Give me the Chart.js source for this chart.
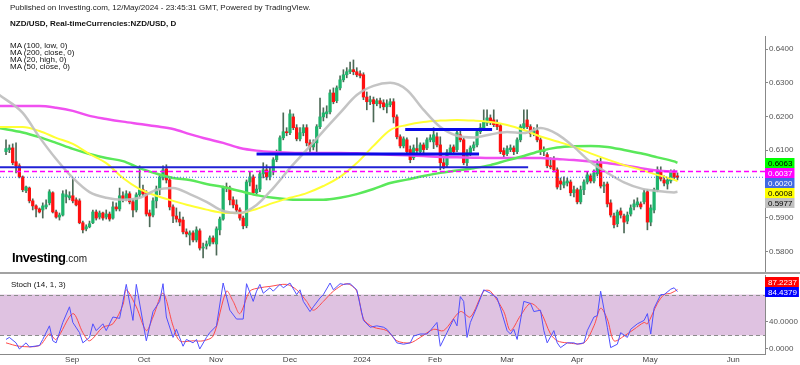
<!DOCTYPE html>
<html>
<head>
<meta charset="utf-8">
<script src="https://cdn.jsdelivr.net/npm/chart.js@4.4.0/dist/chart.umd.min.js"></script>
<style>
  html, body { margin: 0; padding: 0; background: #fff; }
  #wrap { position: relative; width: 800px; height: 365px; overflow: hidden; font-family: "Liberation Sans", Arial, sans-serif; }
  #priceChart { position: absolute; left: 0; top: 0; }
  #stochChart { position: absolute; left: 0; top: 274px; }
  .txt { position: absolute; white-space: nowrap; color: #111; font-size: 8px; line-height: 8px; }
  #sep { position: absolute; left: 0; top: 272px; width: 800px; height: 2px; background: #a2a2a2; }
</style>
</head>
<body>
<div id="wrap">
  <canvas id="priceChart" width="800" height="274"></canvas>
  <canvas id="stochChart" width="800" height="91"></canvas>
  <div id="sep"></div>
  <div class="txt" style="left:10px;top:4px;color:#222">Published on Investing.com, 12/May/2024 - 23:45:31 GMT, Powered by TradingView.</div>
  <div class="txt" style="left:10px;top:20px;font-weight:bold">NZD/USD, Real-timeCurrencies:NZD/USD, D</div>
  <div class="txt" style="left:10px;top:42px">MA (100, low, 0)</div>
  <div class="txt" style="left:10px;top:49px">MA (200, close, 0)</div>
  <div class="txt" style="left:10px;top:56px">MA (20, high, 0)</div>
  <div class="txt" style="left:10px;top:63px">MA (50, close, 0)</div>
  <div class="txt" style="left:12px;top:251px;font-size:13px;line-height:14px;font-weight:bold;letter-spacing:-0.4px;color:#000">Investing<span style="font-weight:normal;font-size:10px;letter-spacing:0;color:#222">.com</span></div>
  <div class="txt" style="left:11px;top:281px">Stoch (14, 1, 3)</div>
</div>
<script>
// daily candles, one per trading day (bar 0 = first visible day)
const opens = [
  0.6096,0.6102,0.6107,0.6066,0.6054,0.6021,0.5980,0.5988,0.5950,0.5935,
  0.5926,0.5923,0.5932,0.5944,0.5974,0.5917,0.5902,0.5908,0.5962,0.5959,
  0.5965,0.5953,0.5950,0.5885,0.5867,0.5873,0.5885,0.5917,0.5902,0.5914,
  0.5902,0.5911,0.5899,0.5932,0.5926,0.5965,0.5956,0.5971,0.5947,0.5923,
  0.5968,0.5983,0.5971,0.5914,0.5908,0.5950,0.5983,0.6018,0.6045,0.6012,
  0.5932,0.5905,0.5896,0.5893,0.5858,0.5849,0.5855,0.5834,0.5861,0.5810,
  0.5816,0.5822,0.5840,0.5822,0.5864,0.5896,0.5991,0.5988,0.5953,0.5938,
  0.5923,0.5899,0.5876,0.6006,0.6021,0.5974,0.5985,0.6030,0.6042,0.6021,
  0.6036,0.6072,0.6096,0.6137,0.6155,0.6152,0.6199,0.6167,0.6134,0.6152,
  0.6167,0.6122,0.6110,0.6122,0.6170,0.6199,0.6208,0.6214,0.6270,0.6247,
  0.6285,0.6309,0.6324,0.6333,0.6339,0.6333,0.6327,0.6324,0.6258,0.6244,
  0.6250,0.6238,0.6247,0.6241,0.6229,0.6235,0.6244,0.6199,0.6140,0.6113,
  0.6131,0.6102,0.6078,0.6105,0.6096,0.6116,0.6107,0.6131,0.6125,0.6140,
  0.6116,0.6063,0.6057,0.6093,0.6110,0.6102,0.6146,0.6131,0.6063,0.6093,
  0.6107,0.6116,0.6155,0.6167,0.6181,0.6196,0.6190,0.6179,0.6173,0.6099,
  0.6090,0.6102,0.6107,0.6096,0.6131,0.6167,0.6190,0.6170,0.6149,0.6158,
  0.6131,0.6096,0.6087,0.6054,0.6072,0.6042,0.6009,0.5997,0.6003,0.6006,
  0.5974,0.5983,0.5947,0.5983,0.6006,0.6024,0.6009,0.6030,0.6063,0.5994,
  0.6000,0.5944,0.5905,0.5882,0.5920,0.5905,0.5890,0.5911,0.5932,0.5938,
  0.5941,0.5947,0.5977,0.5887,0.5923,0.5983,0.6036,0.6012,0.6000,0.6009,
  0.6036,0.6024
];
const highs = [
  0.6131,0.6116,0.6119,0.6122,0.6060,0.6024,0.5994,0.5991,0.5956,0.5938,
  0.5929,0.5944,0.5953,0.5983,0.5977,0.5923,0.5914,0.5980,0.5983,0.5977,
  0.6015,0.5959,0.5956,0.5890,0.5879,0.5890,0.5923,0.5923,0.5920,0.5917,
  0.5923,0.5917,0.5947,0.5944,0.5988,0.5977,0.5980,0.5977,0.5956,0.5974,
  0.6054,0.5997,0.5980,0.5923,0.5959,0.5994,0.6027,0.6054,0.6057,0.6018,
  0.5938,0.5929,0.5917,0.5902,0.5867,0.5861,0.5861,0.5873,0.5867,0.5825,
  0.5831,0.5846,0.5846,0.5873,0.5902,0.5994,0.6003,0.5994,0.5962,0.5953,
  0.5929,0.5905,0.6012,0.6036,0.6027,0.5997,0.6039,0.6063,0.6057,0.6048,
  0.6078,0.6101,0.6143,0.6211,0.6167,0.6220,0.6208,0.6176,0.6167,0.6176,
  0.6176,0.6131,0.6131,0.6176,0.6255,0.6226,0.6232,0.6279,0.6285,0.6291,
  0.6321,0.6339,0.6345,0.6362,0.6368,0.6345,0.6336,0.6330,0.6273,0.6261,
  0.6258,0.6253,0.6255,0.6250,0.6250,0.6253,0.6253,0.6205,0.6146,0.6140,
  0.6137,0.6113,0.6116,0.6137,0.6122,0.6122,0.6137,0.6146,0.6167,0.6152,
  0.6140,0.6078,0.6102,0.6116,0.6116,0.6161,0.6161,0.6137,0.6102,0.6113,
  0.6125,0.6161,0.6179,0.6220,0.6220,0.6205,0.6220,0.6190,0.6179,0.6107,
  0.6113,0.6116,0.6113,0.6137,0.6176,0.6220,0.6220,0.6176,0.6167,0.6176,
  0.6137,0.6110,0.6093,0.6078,0.6081,0.6048,0.6018,0.6021,0.6018,0.6012,
  0.5994,0.5988,0.5994,0.6012,0.6036,0.6030,0.6042,0.6072,0.6078,0.6006,
  0.6006,0.5953,0.5914,0.5923,0.5929,0.5911,0.5917,0.5938,0.5953,0.5959,
  0.5947,0.5983,0.5983,0.5938,0.5988,0.6051,0.6051,0.6024,0.6018,0.6042,
  0.6042,0.6033
];
const lows = [
  0.6087,0.6093,0.6057,0.6033,0.6018,0.5977,0.5974,0.5944,0.5923,0.5902,
  0.5914,0.5899,0.5926,0.5938,0.5914,0.5899,0.5893,0.5905,0.5944,0.5953,
  0.5944,0.5935,0.5882,0.5855,0.5861,0.5870,0.5882,0.5893,0.5896,0.5893,
  0.5896,0.5890,0.5896,0.5920,0.5920,0.5947,0.5950,0.5941,0.5902,0.5917,
  0.5962,0.5965,0.5905,0.5873,0.5902,0.5929,0.5968,0.6012,0.6003,0.5923,
  0.5885,0.5887,0.5876,0.5852,0.5843,0.5819,0.5828,0.5828,0.5804,0.5781,
  0.5807,0.5816,0.5822,0.5789,0.5849,0.5893,0.5977,0.5938,0.5929,0.5917,
  0.5893,0.5867,0.5870,0.5994,0.5968,0.5965,0.5977,0.6018,0.6012,0.6012,
  0.6027,0.6066,0.6090,0.6131,0.6143,0.6146,0.6161,0.6128,0.6128,0.6143,
  0.6113,0.6087,0.6101,0.6087,0.6164,0.6187,0.6196,0.6208,0.6238,0.6241,
  0.6279,0.6303,0.6315,0.6327,0.6324,0.6318,0.6315,0.6250,0.6220,0.6235,
  0.6184,0.6232,0.6226,0.6220,0.6211,0.6229,0.6181,0.6134,0.6107,0.6107,
  0.6090,0.6063,0.6072,0.6087,0.6087,0.6093,0.6102,0.6125,0.6105,0.6110,
  0.6042,0.6045,0.6051,0.6087,0.6090,0.6096,0.6125,0.6057,0.6054,0.6084,
  0.6099,0.6110,0.6149,0.6161,0.6173,0.6176,0.6170,0.6161,0.6090,0.6078,
  0.6084,0.6096,0.6087,0.6090,0.6125,0.6161,0.6164,0.6140,0.6143,0.6125,
  0.6087,0.6084,0.6048,0.6045,0.6036,0.5985,0.5983,0.5988,0.5994,0.5965,
  0.5962,0.5941,0.5941,0.5968,0.6000,0.6003,0.6003,0.6024,0.5988,0.5974,
  0.5932,0.5902,0.5870,0.5873,0.5899,0.5855,0.5882,0.5905,0.5923,0.5932,
  0.5926,0.5941,0.5864,0.5876,0.5914,0.5977,0.6009,0.5994,0.5985,0.6003,
  0.6012,0.6012
];
const closes = [
  0.6105,0.6107,0.6063,0.6054,0.6021,0.5983,0.5991,0.5950,0.5935,0.5926,
  0.5917,0.5935,0.5938,0.5977,0.5917,0.5902,0.5908,0.5971,0.5968,0.5965,
  0.5950,0.5938,0.5885,0.5864,0.5873,0.5882,0.5917,0.5899,0.5914,0.5899,
  0.5911,0.5896,0.5932,0.5926,0.5965,0.5956,0.5971,0.5947,0.5923,0.5968,
  0.5983,0.5971,0.5911,0.5905,0.5950,0.5985,0.6021,0.6042,0.6012,0.5932,
  0.5905,0.5896,0.5887,0.5858,0.5852,0.5855,0.5834,0.5864,0.5810,0.5813,
  0.5822,0.5840,0.5828,0.5867,0.5896,0.5988,0.5988,0.5953,0.5938,0.5923,
  0.5899,0.5876,0.6006,0.6021,0.5974,0.5985,0.6030,0.6042,0.6021,0.6036,
  0.6072,0.6096,0.6137,0.6155,0.6152,0.6208,0.6167,0.6134,0.6152,0.6167,
  0.6122,0.6110,0.6122,0.6170,0.6199,0.6211,0.6214,0.6270,0.6244,0.6285,
  0.6309,0.6324,0.6333,0.6339,0.6333,0.6324,0.6321,0.6258,0.6244,0.6250,
  0.6238,0.6247,0.6238,0.6229,0.6238,0.6244,0.6199,0.6140,0.6113,0.6134,
  0.6096,0.6072,0.6107,0.6099,0.6116,0.6102,0.6131,0.6137,0.6146,0.6116,
  0.6063,0.6051,0.6093,0.6107,0.6096,0.6152,0.6131,0.6063,0.6093,0.6107,
  0.6116,0.6155,0.6167,0.6184,0.6196,0.6184,0.6176,0.6170,0.6096,0.6087,
  0.6105,0.6107,0.6096,0.6131,0.6170,0.6179,0.6170,0.6149,0.6158,0.6131,
  0.6096,0.6099,0.6054,0.6051,0.6042,0.5991,0.6000,0.6006,0.6009,0.5974,
  0.5983,0.5947,0.5983,0.6006,0.6027,0.6009,0.6033,0.6060,0.5994,0.5997,
  0.5941,0.5908,0.5879,0.5917,0.5908,0.5887,0.5908,0.5929,0.5941,0.5947,
  0.5932,0.5974,0.5887,0.5929,0.5983,0.6042,0.6015,0.6003,0.6012,0.6036,
  0.6021,0.6020
];

// moving averages at these bars
const maBars = [-2,5,10,15,20,25,30,35,40,45,50,55,60,65,70,75,80,85,90,95,100,
                105,110,115,120,125,130,135,140,145,150,155,160,165,170,175,180,185,190,195,200,201];
const ma100Low = [0.6166,0.6153,0.6139,0.6122,0.6104,0.6089,0.6077,0.6068,0.6047,0.6031,0.6018,
  0.6012,0.6000,0.5991,0.5979,0.5967,0.5959,0.5954,0.5953,0.5953,0.5959,0.5970,0.5985,0.6003,
  0.6013,0.6024,0.6033,0.6040,0.6047,0.6056,0.6070,0.6083,0.6098,0.6108,0.6112,0.6113,0.6110,
  0.6101,0.6091,0.6079,0.6067,0.6063];
const ma200Close = [0.6231,0.6231,0.6231,0.6226,0.6217,0.6202,0.6193,0.6185,0.6178,0.6171,0.6163,
  0.6148,0.6134,0.6122,0.6107,0.6099,0.6095,0.6093,0.6092,0.6092,0.6092,0.6091,0.6089,0.6087,
  0.6085,0.6083,0.6080,0.6079,0.6078,0.6077,0.6077,0.6077,0.6077,0.6074,0.6071,0.6067,0.6062,
  0.6056,0.6047,0.6040,0.6037,0.6037];
const ma20High = [0.6264,0.6211,0.6139,0.6074,0.6018,0.5976,0.5959,0.5953,0.5959,0.5982,0.5988,
  0.5970,0.5947,0.5920,0.5914,0.5938,0.5988,0.6047,0.6101,0.6157,0.6211,0.6264,0.6291,0.6300,
  0.6279,0.6220,0.6169,0.6143,0.6138,0.6147,0.6154,0.6151,0.6166,0.6148,0.6110,0.6065,0.6033,
  0.6005,0.5987,0.5979,0.5975,0.5977];
const ma50Close = [0.6169,0.6169,0.6157,0.6137,0.6119,0.6089,0.6062,0.6018,0.5985,0.5965,0.5950,
  0.5936,0.5924,0.5915,0.5914,0.5926,0.5944,0.5959,0.5973,0.5994,0.6021,0.6062,0.6113,0.6160,
  0.6175,0.6184,0.6188,0.6190,0.6188,0.6184,0.6175,0.6160,0.6141,0.6126,0.6110,0.6091,0.6073,
  0.6056,0.6042,0.6027,0.6013,0.6008];

// hand-drawn support / resistance lines
const levelPrices = [0.6050, 0.6089, 0.6162];
const levelFrom = [-2, 75, 119.5];
const levelTo = [156.3, 141.6, 145.5];

// price lines and the value tags on the right axis
const ma200Last = 0.6037;
const lastClose = 0.6020;
const tagValues = [0.6063, 0.6037, 0.6020, 0.6008, 0.5977];
const tagFill = ['#00ff00', '#ff00ff', '#4169e1', '#ffff00', '#c0c0c0'];
const tagInk = ['#000', '#fff', '#fff', '#000', '#000'];

// stochastic (14, 1, 3)
const kBars = [0,1,3,4,6,7,10,11,13,14,15,17,19,20,22,23,25,26,27,29,30,32,34,35,36,38,39,41,42,44,
  46,47,48,50,51,53,54,56,57,58,60,61,63,65,67,69,71,72,74,75,76,77,79,80,82,83,85,87,88,89,
  91,92,94,95,97,98,100,101,103,105,107,109,111,113,114,116,117,119,121,122,124,126,127,129,130,
  132,134,135,136,137,138,139,141,143,145,147,148,150,151,152,153,155,157,158,160,161,162,164,165,
  166,168,170,171,173,174,176,177,178,180,181,183,184,186,187,189,191,192,193,194,196,197,199,200,201];
const kValues = [14,17,9,0,9,3,5,14,34,12,9,39,62,39,24,9,17,37,27,37,27,47,45,70,95,42,95,39,12,55,
  70,96,47,17,29,4,14,9,14,0,17,24,34,97,57,44,44,96,70,85,95,82,90,85,95,90,97,80,87,70,
  55,62,75,80,97,87,96,95,96,87,42,32,34,32,29,17,9,7,9,19,22,22,27,39,4,
  24,44,34,77,70,17,39,62,87,82,75,60,27,22,29,14,70,67,55,57,27,9,27,9,
  2,9,9,7,9,27,47,49,85,32,2,7,24,17,29,37,42,52,22,60,80,80,88,90,84.4379];
const dBars = [0,4,10,13,15,20,23,25,29,32,35,36,39,42,44,47,50,52,56,59,62,66,68,70,73,76,79,84,87,90,
  92,95,98,102,105,107,110,114,117,121,124,128,131,136,139,143,145,149,151,154,157,160,163,165,168,
  173,176,178,180,182,185,188,191,192,195,197,199,201];
const dValues = [9,4,5,22,14,52,24,12,32,37,65,87,62,27,47,82,34,12,12,12,19,85,70,52,85,90,92,95,87,70,
  57,70,85,96,85,44,32,27,12,9,17,29,27,55,47,85,85,55,27,49,67,55,22,12,9,
  9,34,60,44,12,19,29,39,37,67,80,82,87.2237];
const stochUpper = 80;
const stochLower = 20;
const stochTags = [87.2237, 84.4379];
const stochTagFill = ['#ff0000', '#0000ff'];

// month labels of the time axis
const monthLabels = ['Sep', 'Oct', 'Nov', 'Dec', '2024', 'Feb', 'Mar', 'Apr', 'May', 'Jun'];
const monthBars = [19.8, 41.3, 62.9, 85, 106.6, 128.4, 150, 171, 192.8, 217.7];

const xMin = -1.8, xMax = 227.2;
const FONT = '"Liberation Sans", Arial, sans-serif';

const upColor = '#1fb46c';
const downColor = '#ff1010';
const wickColor = '#4d6a57';

function toPoints(xs, ys) {
  return xs.map((x, i) => ({ x: x, y: ys[i] }));
}

function maLine(values, color, width) {
  return {
    type: 'line', data: toPoints(maBars, values), borderColor: color, borderWidth: width,
    pointRadius: 0, cubicInterpolationMode: 'monotone', order: 3
  };
}

// keep the right axes 35px wide and stop them from eating into the plot height
function fitRightAxis(s) {
  s.width = 35;
  s.paddingTop = 0;
  s.paddingBottom = 0;
}

// draws the coloured value tags next to the right axis
const tagPlugin = {
  id: 'tags',
  afterDraw(chart, args, opts) {
    const ctx = chart.ctx;
    const y = chart.scales.y;
    const left = chart.chartArea.right;
    let items = opts.values.map((v, i) => ({
      py: y.getPixelForValue(v), text: v.toFixed(4), fill: opts.fill[i], ink: opts.ink[i]
    }));
    if (opts.up) {
      items.sort((a, b) => b.py - a.py);
      for (let i = 1; i < items.length; i++) items[i].py = Math.min(items[i].py, items[i - 1].py - 10);
    } else {
      items.sort((a, b) => a.py - b.py);
      for (let i = 1; i < items.length; i++) items[i].py = Math.max(items[i].py, items[i - 1].py + 10);
    }
    ctx.save();
    ctx.font = '8px ' + FONT;
    ctx.textBaseline = 'middle';
    items.forEach(it => {
      const w = ctx.measureText(it.text).width + 5;
      ctx.fillStyle = it.fill;
      ctx.fillRect(left, Math.round(it.py - 5), w, 10);
      ctx.fillStyle = it.ink;
      ctx.fillText(it.text, left + 3, Math.round(it.py) + 0.5);
    });
    ctx.restore();
  }
};

// overbought / oversold band of the stochastic panel
const bandPlugin = {
  id: 'band',
  beforeDatasetsDraw(chart) {
    const ctx = chart.ctx;
    const a = chart.chartArea;
    const y = chart.scales.y;
    const top = y.getPixelForValue(stochUpper);
    const bottom = y.getPixelForValue(stochLower);
    ctx.save();
    ctx.fillStyle = '#dfc2e1';
    ctx.fillRect(a.left, top, a.right - a.left, bottom - top);
    ctx.strokeStyle = '#8c8c8c';
    ctx.lineWidth = 1;
    ctx.setLineDash([4, 3]);
    [top, bottom].forEach(p => {
      ctx.beginPath();
      ctx.moveTo(a.left, Math.round(p) + 0.5);
      ctx.lineTo(a.right, Math.round(p) + 0.5);
      ctx.stroke();
    });
    ctx.restore();
  }
};

const bars = opens.map((_, i) => i);

const priceDatasets = [
  {
    type: 'line', data: [{ x: xMin, y: ma200Last }, { x: xMax, y: ma200Last }],
    borderColor: '#ff00ff', borderWidth: 1.5, borderDash: [5, 3], pointRadius: 0, order: 1
  },
  {
    type: 'line', data: [{ x: xMin, y: lastClose }, { x: xMax, y: lastClose }],
    borderColor: '#4169e1', borderWidth: 1, borderDash: [1, 2], pointRadius: 0, order: 1
  },
  maLine(ma20High, 'rgba(190,190,190,0.9)', 2.5),
  maLine(ma50Close, '#ffff33', 2),
  maLine(ma100Low, '#5ae85a', 2.5),
  maLine(ma200Close, '#f050f0', 2.5),
  {
    type: 'bar', data: bars.map(i => ({ x: i, y: [opens[i], closes[i]] })),
    backgroundColor: bars.map(i => closes[i] >= opens[i] ? upColor : downColor),
    barThickness: 2.6, minBarLength: 1, grouped: false, order: 8
  },
  {
    type: 'bar', data: bars.map(i => ({ x: i, y: [lows[i], highs[i]] })),
    backgroundColor: wickColor, barThickness: 1, grouped: false, order: 9
  }
];

levelPrices.forEach((p, i) => {
  priceDatasets.push({
    type: 'line', data: [{ x: levelFrom[i], y: p }, { x: levelTo[i], y: p }],
    borderColor: i === 0 ? '#2121d6' : '#0a0ae6', borderWidth: i === 0 ? 2 : 3,
    pointRadius: 0, order: 2
  });
});

new Chart(document.getElementById('priceChart'), {
  type: 'bar',
  data: { datasets: priceDatasets },
  options: {
    responsive: false,
    animation: false,
    layout: { padding: { left: 0, right: 0, top: 36, bottom: 1 } },
    plugins: {
      legend: { display: false },
      tooltip: { enabled: false },
      tags: { values: tagValues, fill: tagFill, ink: tagInk, up: false }
    },
    scales: {
      x: { type: 'linear', min: xMin, max: xMax, offset: false, display: false },
      y: {
        position: 'right', min: 0.5736, max: 0.6439,
        afterFit: fitRightAxis,
        ticks: {
          stepSize: 0.01, includeBounds: false, padding: 1, color: '#555',
          font: { size: 8, family: FONT },
          callback: v => v.toFixed(4)
        },
        grid: { drawOnChartArea: false, tickLength: 3, color: '#888' },
        border: { color: '#888', width: 1 }
      }
    }
  },
  plugins: [tagPlugin]
});

new Chart(document.getElementById('stochChart'), {
  type: 'line',
  data: {
    datasets: [
      { data: toPoints(kBars, kValues), borderColor: '#5050ff', borderWidth: 1, pointRadius: 0 },
      { data: toPoints(dBars, dValues), borderColor: '#ff4a4a', borderWidth: 1, pointRadius: 0, tension: 0.3 }
    ]
  },
  options: {
    responsive: false,
    animation: false,
    layout: { padding: { left: 0, right: 0, top: 1, bottom: 0 } },
    plugins: {
      legend: { display: false },
      tooltip: { enabled: false },
      tags: { values: stochTags, fill: stochTagFill, ink: ['#fff', '#fff'], up: true }
    },
    scales: {
      x: {
        type: 'linear', min: xMin, max: xMax, offset: false,
        afterBuildTicks(s) { s.ticks = monthBars.map(v => ({ value: v })); },
        afterFit(s) { s.height = 11; s.paddingLeft = 0; s.paddingRight = 0; },
        ticks: {
          autoSkip: false, maxRotation: 0, padding: 1, color: '#444',
          font: { size: 8, family: FONT },
          callback: (v, i) => monthLabels[i]
        },
        grid: { display: false, drawTicks: false, tickLength: 0 },
        border: { color: '#888', width: 1 }
      },
      y: {
        position: 'right', min: -7.4, max: 108.8,
        afterFit: fitRightAxis,
        afterBuildTicks(s) { s.ticks = [{ value: 0 }, { value: 40 }, { value: 80 }]; },
        ticks: {
          padding: 1, color: '#555', font: { size: 8, family: FONT },
          callback: v => v.toFixed(4)
        },
        grid: { drawOnChartArea: false, tickLength: 3, color: '#888' },
        border: { color: '#888', width: 1 }
      }
    }
  },
  plugins: [bandPlugin, tagPlugin]
});
</script>
</body>
</html>
